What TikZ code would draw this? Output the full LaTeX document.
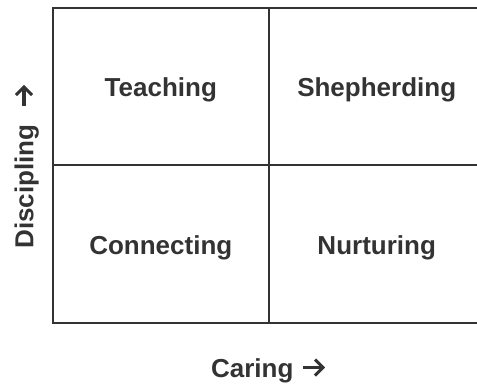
\documentclass[tikz,border=0pt]{standalone}
\usepackage{fontspec}
\setmainfont{Liberation Sans}
\definecolor{ink}{HTML}{333333}
\begin{document}
\begin{tikzpicture}[x=0.75pt,y=-0.75pt,
  lbl/.style={font=\bfseries\fontsize{19.5}{23}\selectfont, text=ink, inner sep=0pt, anchor=base},
  gridline/.style={draw=ink, line width=1.5pt},
  arr/.style={draw=ink, line width=2.3pt, line join=miter, line cap=butt}]
\useasboundingbox (0,0) rectangle (477,383);
\clip (0,0) rectangle (477,383);
% grid
\draw[gridline] (53,7.5) rectangle (490,323.3);
\draw[gridline] (268.7,7.5) -- (268.7,323.3);
\draw[gridline] (53,165.3) -- (490,165.3);
% quadrant labels
\node[lbl] (teach) at (160.8,96.3) {Teaching};
\node[lbl] (shep) at (376.7,96.3) {Shepherding};
\node[lbl] (conn) at (160.8,254.3) {Connecting};
\node[lbl] (nurt) at (376.7,254.3) {Nurturing};
% axis labels
\node[lbl] (caring) at (252.3,377.5) {Caring};
\coordinate (ra) at (303,367.5);
\coordinate (rb) at (323,367.5);
\draw[arr] (ra) -- (rb);
\draw[arr] (315,359.5) -- (rb) -- (315,375.5);
\node[lbl, rotate=90] (disc) at (33.3,186.4) {Discipling};
\coordinate (ua) at (24,106);
\coordinate (ub) at (24,87);
\draw[arr] (ua) -- (ub);
\draw[arr] (16,95) -- (ub) -- (32,95);
\end{tikzpicture}
\end{document}
